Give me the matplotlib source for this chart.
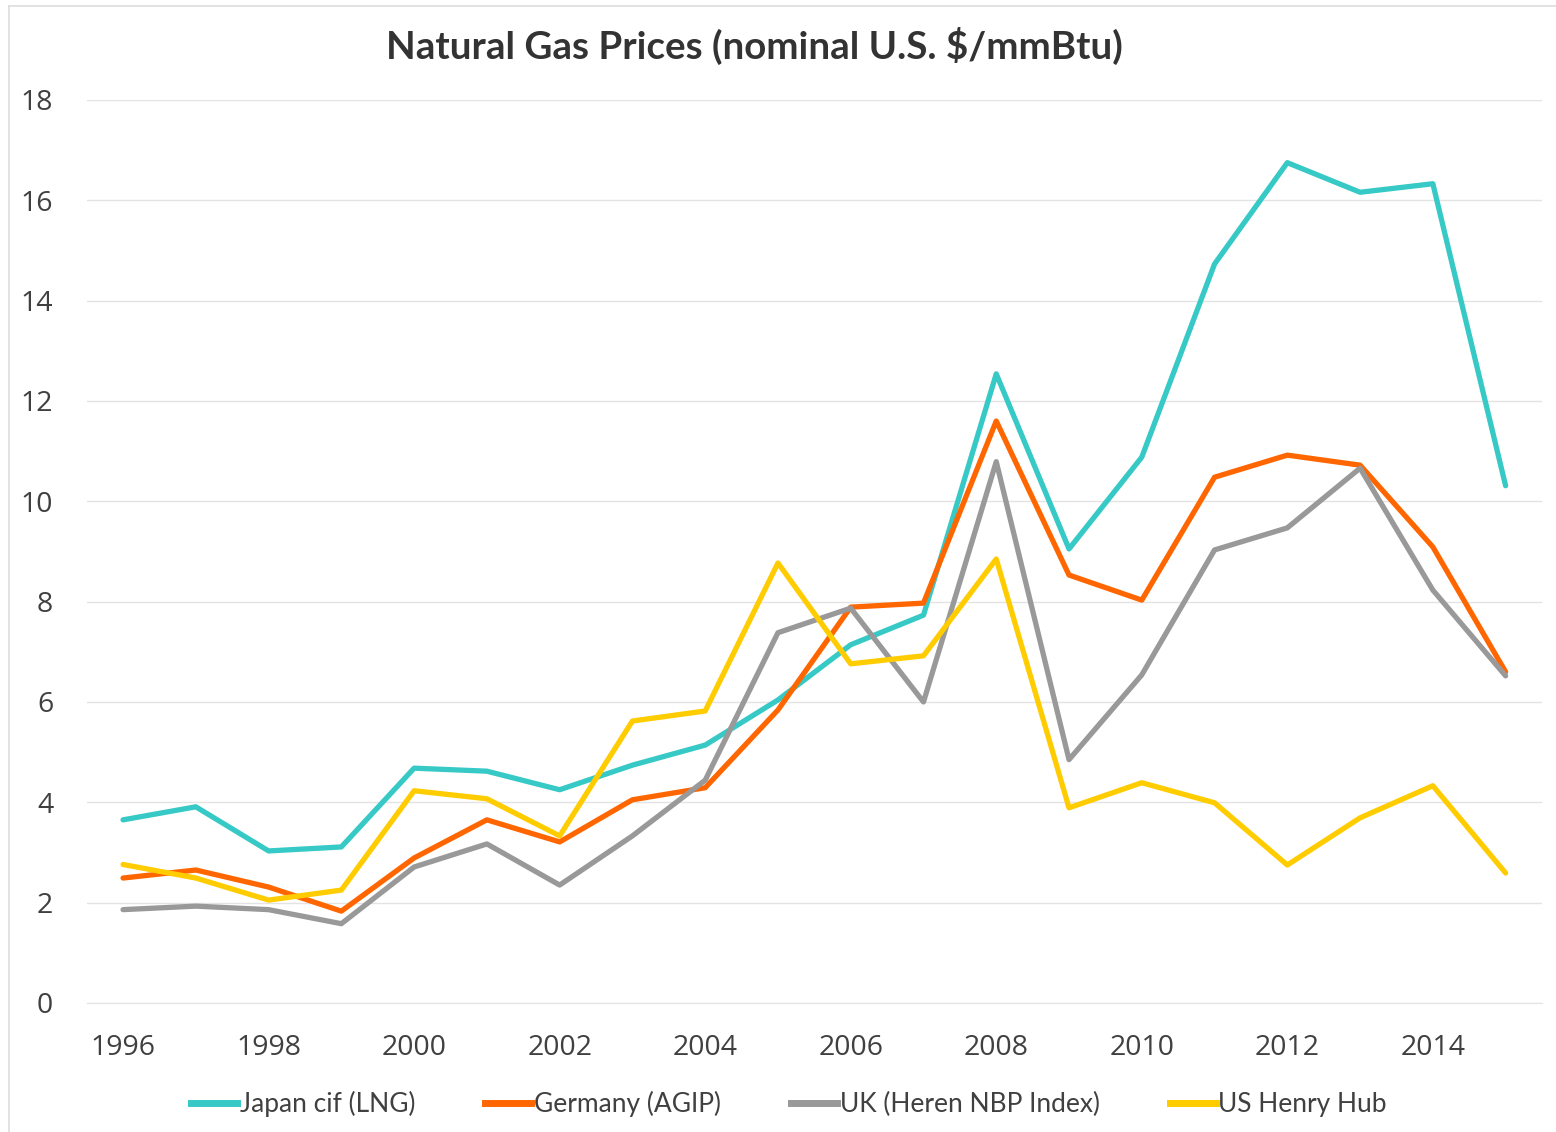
import matplotlib
matplotlib.use('Agg')
import matplotlib.pyplot as plt
from matplotlib.lines import Line2D

years = list(range(1996, 2016))
japan = [3.65, 3.91, 3.03, 3.11, 4.68, 4.62, 4.25, 4.74, 5.14, 6.04,
         7.14, 7.73, 12.54, 9.05, 10.88, 14.73, 16.75, 16.16, 16.33, 10.31]
germany = [2.49, 2.65, 2.31, 1.83, 2.89, 3.65, 3.21, 4.05, 4.29, 5.84,
           7.89, 7.97, 11.60, 8.53, 8.03, 10.48, 10.92, 10.72, 9.09, 6.60]
uk = [1.86, 1.93, 1.86, 1.58, 2.71, 3.17, 2.35, 3.33, 4.44, 7.38,
      7.87, 6.00, 10.79, 4.85, 6.54, 9.03, 9.47, 10.66, 8.23, 6.52]
us = [2.76, 2.49, 2.05, 2.25, 4.23, 4.07, 3.33, 5.62, 5.82, 8.77,
      6.76, 6.92, 8.85, 3.89, 4.39, 3.99, 2.75, 3.69, 4.33, 2.59]

names = ['Japan cif (LNG)', 'Germany (AGIP)', 'UK (Heren NBP Index)', 'US Henry Hub']
colors = ['#36C9C6', '#FF6600', '#999999', '#FFCC00']
series = [japan, germany, uk, us]

fig = plt.figure(figsize=(15.56, 11.32), dpi=100)
ax = fig.add_axes([0.0557, 0.114, 0.9353, 0.7977])

for vals, name, col in zip(series, names, colors):
    ax.plot(years, vals, color=col, lw=3.8, label=name,
            solid_joinstyle='round', solid_capstyle='round')

ax.set_xlim(1995.5, 2015.5)
ax.set_ylim(0, 18)
ax.set_yticks(range(0, 19, 2))
ax.set_xticks(range(1996, 2016, 2))
ax.grid(axis='y', color='#E3E3E3', lw=1)
ax.set_axisbelow(True)
for s in ['top', 'right', 'left']:
    ax.spines[s].set_visible(False)
ax.spines['bottom'].set_color('#E3E3E3')
ax.tick_params(length=0, labelsize=20.5, labelcolor='#404040')
ax.tick_params(axis='x', pad=22)
ax.tick_params(axis='y', pad=24)
for lab in ax.get_xticklabels() + ax.get_yticklabels():
    lab.set_family('Open Sans')

fig.text(0.485, 0.959, 'Natural Gas Prices (nominal U.S. $/mmBtu)',
         ha='center', va='center', fontsize=27.7, fontweight='bold',
         family='Lato', color='#333333')

handles = [Line2D([0], [0], color=c, lw=5) for c in colors]
leg = fig.legend(handles, names, loc='center', bbox_to_anchor=(0.507, 0.0245),
                 ncol=4, frameon=False, handlelength=1.75, handletextpad=0.1,
                 columnspacing=2.65, prop={'family': 'Lato', 'size': 19})
for t in leg.get_texts():
    t.set_color('#404040')

# outer chart border (top and left edges visible)
fig.add_artist(Line2D([0.0061, 1.0], [0.9947, 0.9947], color='#DDDDDD', lw=1.2))
fig.add_artist(Line2D([0.0061, 0.0061], [0.0, 0.9947], color='#DDDDDD', lw=1.2))

fig.savefig('out.png', dpi=100)
